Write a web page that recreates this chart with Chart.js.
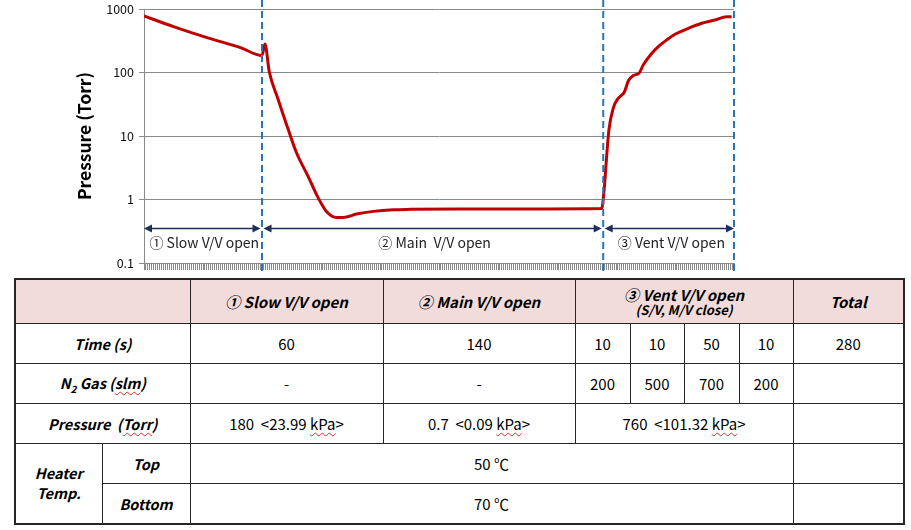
<!DOCTYPE html>
<html>
<head>
<meta charset="utf-8">
<script src="https://cdn.jsdelivr.net/npm/chart.js@4"></script>
<style>
  body { margin: 0; background: #fff; font-family: 'Noto Sans CJK KR', 'Noto Sans', sans-serif; }
  #wrap { position: absolute; left: 0; top: 0; width: 911px; height: 275px; }
  #tbl {
    position: absolute; left: 14px; top: 278px; width: 889px;
    border-collapse: collapse; table-layout: fixed; color: #000;
    border: 2px solid #262626;
  }
  #tbl td { border: 1px solid #262626; text-align: center; padding: 0; font-size: 15px; }
  #tbl tr.head td { background: #f2dcdb; font-weight: bold; font-style: italic; font-size: 15px; height: 43px; }
  #tbl td.lab { font-weight: bold; font-style: italic; font-size: 14.5px; }
  #tbl tr { height: 40px; }
  #tbl .sub { font-size: 13px; display: block; line-height: 13px; }
  .sq { text-decoration: underline wavy #e03030; text-decoration-thickness: 1px; text-underline-offset: 2px; }
</style>
</head>
<body>
<div id="wrap"><canvas id="chart" width="911" height="275"></canvas></div>
<table id="tbl"></table>
<script>
// pressure trace, x in chart units (axis spacing as in the recording), y in Torr
const timeSec = [0, 15, 32, 49, 60, 61.5, 63.7, 68.3, 73.4, 77.6, 83.5, 88.6, 92.9, 98, 101.3,
    108.1, 116.6, 126.8, 135.3, 160, 200, 232.7, 233.9, 235.3, 236.4, 238.6, 241.2, 244.2,
    246.3, 248.8, 251.7, 253.9, 257.8, 261.5, 265.8, 270, 276.8, 283.6, 290.3, 296.3, 298.8];
const pressureTorr = [780, 527, 354, 247, 185, 280, 103, 37, 12.5, 5.4, 2.3, 1.06, 0.64, 0.52, 0.52,
    0.59, 0.65, 0.69, 0.70, 0.71, 0.71, 0.72, 1.34, 5.06, 12.5, 27.5, 39.5, 49,
    74, 90, 97.5, 132, 194, 256, 326, 400, 497, 596, 672, 757, 750];
const yTickValues = [0.1, 1, 10, 100, 1000];
const phaseBounds = [0, 60, 233.5, 300];
const phaseLabels = ['\u2460 Slow V/V open', '\u2461 Main  V/V open', '\u2462 Vent V/V open'];
const arrowLevel = 0.35;

// table below the chart
const headRow = ['\u2460 Slow  V/V open', '\u2461 Main  V/V open', '\u2462 Vent V/V open', 'Total'];
const headSub = '(S/V, M/V close)';
const timeRow = ['60', '140', '10', '10', '50', '10', '280'];
const gasRow = ['-', '-', '200', '500', '700', '200', ''];
const pressRow = ['180 <23.99 kPa>', '0.7 <0.09 kPa>', '760 <101.32 kPa>', ''];
const heaterTop = '50 \u2103';
const heaterBottom = '70 \u2103';

const FONT = "'Noto Sans CJK KR', 'Noto Sans', sans-serif";
Chart.defaults.font.family = FONT;

function esc(s) {
    return s.replace(/&/g, '&amp;').replace(/</g, '&lt;').replace(/>/g, '&gt;');
}
function kpa(s) {
    return esc(s).replace(' ', '&nbsp; ').replace('kPa', '<span class="sq">kPa</span>');
}

function buildTable() {
    let colW = [87, 88, 193, 192, 55, 54, 55, 54, 111];
    let h = '<colgroup>' + colW.map(w => '<col style="width:' + w + 'px">').join('') + '</colgroup>';
    h += '<tr class="head"><td colspan="2"></td>'
        + '<td>' + headRow[0] + '</td><td>' + headRow[1] + '</td>'
        + '<td colspan="4" style="line-height:16px">' + headRow[2] + '<span class="sub">' + headSub + '</span></td>'
        + '<td>' + headRow[3] + '</td></tr>';
    h += '<tr><td colspan="2" class="lab">Time (s)</td>' + timeRow.map(v => '<td>' + v + '</td>').join('') + '</tr>';
    h += '<tr><td colspan="2" class="lab">N<sub style="font-size:10px">2</sub> Gas (<span class="sq">slm</span>)</td>'
        + gasRow.map(v => '<td>' + v + '</td>').join('') + '</tr>';
    h += '<tr><td colspan="2" class="lab">Pressure&nbsp; (<span class="sq">Torr</span>)</td>'
        + '<td>' + kpa(pressRow[0]) + '</td><td>' + kpa(pressRow[1]) + '</td>'
        + '<td colspan="4">' + kpa(pressRow[2]) + '</td><td>' + pressRow[3] + '</td></tr>';
    h += '<tr><td rowspan="2" class="lab" style="line-height:20px">Heater<br>Temp.</td>'
        + '<td class="lab">Top</td><td colspan="6">' + heaterTop + '</td><td></td></tr>';
    h += '<tr><td class="lab">Bottom</td><td colspan="6">' + heaterBottom + '</td><td></td></tr>';
    document.getElementById('tbl').innerHTML = h;
}

const phaseMarks = {
    id: 'phaseMarks',
    afterDatasetsDraw(chart) {
        let ctx = chart.ctx;
        let xs = chart.scales.x;
        let ys = chart.scales.y;
        let area = chart.chartArea;
        let ay = ys.getPixelForValue(arrowLevel);

        ctx.save();
        // arrows for each phase
        ctx.strokeStyle = '#1f2f5c';
        ctx.fillStyle = '#1f2f5c';
        ctx.lineWidth = 1.5;
        for (let i = 0; i < phaseLabels.length; i++) {
            let x0 = xs.getPixelForValue(phaseBounds[i]) + (i > 0 ? 1.5 : 0);
            let x1 = xs.getPixelForValue(phaseBounds[i + 1]) - (i < phaseLabels.length - 1 ? 1.5 : 0);
            ctx.beginPath();
            ctx.moveTo(x0 + 4, ay);
            ctx.lineTo(x1 - 4, ay);
            ctx.stroke();
            ctx.beginPath();
            ctx.moveTo(x0, ay);
            ctx.lineTo(x0 + 8, ay - 4);
            ctx.lineTo(x0 + 8, ay + 4);
            ctx.closePath();
            ctx.fill();
            ctx.beginPath();
            ctx.moveTo(x1, ay);
            ctx.lineTo(x1 - 8, ay - 4);
            ctx.lineTo(x1 - 8, ay + 4);
            ctx.closePath();
            ctx.fill();

            ctx.fillStyle = '#222';
            ctx.font = '14px ' + FONT;
            ctx.textAlign = 'center';
            ctx.textBaseline = 'middle';
            ctx.fillText(phaseLabels[i], (x0 + x1) / 2 + 2, ay + 14);
            ctx.fillStyle = '#1f2f5c';
        }

        // dashed phase boundaries
        ctx.strokeStyle = '#2a76b4';
        ctx.lineWidth = 2;
        ctx.setLineDash([7, 4]);
        for (let i = 1; i < phaseBounds.length; i++) {
            let x = xs.getPixelForValue(phaseBounds[i]);
            ctx.beginPath();
            ctx.moveTo(x, 0);
            ctx.lineTo(x, area.bottom + 8);
            ctx.stroke();
        }
        ctx.restore();
    }
};

function createPressureChart() {
    let ctx = document.getElementById('chart').getContext('2d');
    let points = timeSec.map((t, i) => ({ x: t, y: pressureTorr[i] }));

    new Chart(ctx, {
        type: 'line',
        data: {
            datasets: [{
                data: points,
                borderColor: '#c00000',
                borderWidth: 3,
                pointRadius: 0,
                cubicInterpolationMode: 'monotone',
                fill: false
            }]
        },
        options: {
            responsive: false,
            animation: false,
            layout: {
                padding: { left: 0, right: 177, top: 9, bottom: 5 }
            },
            plugins: {
                legend: { display: false },
                tooltip: { enabled: false }
            },
            scales: {
                x: {
                    type: 'linear',
                    min: 0,
                    max: 300,
                    grid: {
                        drawOnChartArea: false,
                        drawTicks: true,
                        tickLength: 7,
                        color: '#8a8a8a'
                    },
                    border: { color: '#8a8a8a' },
                    ticks: { display: false, stepSize: 1, autoSkip: false }
                },
                y: {
                    type: 'logarithmic',
                    min: 0.1,
                    max: 1000,
                    afterBuildTicks: (scale) => {
                        scale.ticks = yTickValues.map(v => ({ value: v }));
                    },
                    afterFit: (scale) => {
                        scale.width = 144;
                        scale.paddingTop = 0;
                        scale.paddingBottom = 0;
                    },
                    grid: { color: '#8a8a8a', tickLength: 5 },
                    border: { color: '#8a8a8a' },
                    ticks: {
                        color: '#111',
                        padding: 5,
                        font: { size: 12.5 },
                        callback: (v) => String(v)
                    },
                    title: {
                        display: true,
                        text: 'Pressure (Torr)',
                        color: '#000',
                        font: { size: 17.5, weight: 'bold' },
                        padding: { top: 74, bottom: 0 }
                    }
                }
            }
        },
        plugins: [phaseMarks]
    });
}

buildTable();
createPressureChart();
</script>
</body>
</html>
